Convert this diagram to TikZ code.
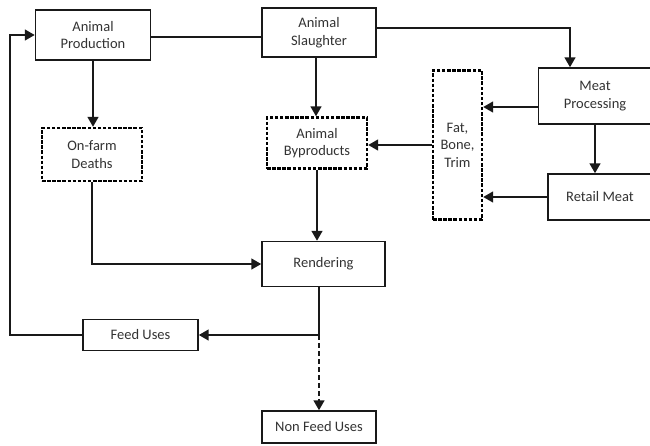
\documentclass[tikz,border=0pt]{standalone}
\usepackage{fontspec}
\setmainfont{Carlito}
\usetikzlibrary{shapes,arrows}
\usetikzlibrary{calc}

\begin{document}
\begin{tikzpicture}[x=1pt,y=-1pt]

\tikzstyle{solid-b} = [draw, line width=1.7, draw=black!90, fill=white, inner sep=0,
align=center, text=black!80, font=\fontsize{14.5}{17.5}\selectfont]
\tikzstyle{dash-b} = [draw, line width=2.6, draw=black, fill=white, inner sep=0,
dash pattern=on 3.5 off 1.6, align=center, text=black!80, font=\fontsize{14.5}{17.5}\selectfont]
\tikzstyle{flow} = [line width=1.7, draw=black!90, -triangle 60]
\tikzstyle{link} = [line width=1.7, draw=black!90]

\useasboundingbox (0,0) rectangle (650,445);

\node [solid-b, minimum width=115, minimum height=50] (ap) at (93,35) {Animal\\Production};
\node [solid-b, minimum width=114, minimum height=49] (as) at (319,32.5) {Animal\\Slaughter};
\node [solid-b, minimum width=113, minimum height=56] (mp) at (595,96) {Meat\\Processing};
\node [dash-b, minimum width=100, minimum height=53] (od) at (92,154.5) {On-farm\\Deaths};
\node [dash-b, minimum width=100, minimum height=51] (ab) at (317,143) {Animal\\Byproducts};
\node [dash-b, minimum width=49, minimum height=149] (fbt) at (457.5,145) {Fat,\\Bone,\\Trim};
\node [solid-b, minimum width=104, minimum height=46] (rm) at (600,197) {Retail Meat};
\node [solid-b, minimum width=123, minimum height=45] (rend) at (323.5,264) {Rendering};
\node [solid-b, minimum width=115, minimum height=31] (fu) at (140.5,335) {Feed Uses};
\node [solid-b, minimum width=114, minimum height=32] (nfu) at (319,427) {Non Feed Uses};

\coordinate (split) at (319,335);
\coordinate (loopx) at (10,0);

% top row
\draw[link] ([yshift=-2]ap.east) -- ([yshift=-2]ap.east -| as.west);
\draw[flow] ([yshift=4.5]as.east) -| ([xshift=-25]mp.north);
\draw[flow] ([xshift=-3]as.south) -- ([xshift=-3]as.south |- ab.north);
\draw[flow] (ap.south) -- (ap.south |- od.north);

% meat side
\draw[flow] ([yshift=-11]mp.west) -- ([yshift=-11]mp.west -| fbt.east);
\draw[flow] (mp.south) -- (mp.south |- rm.north);
\draw[flow] (rm.west) -- (rm.west -| fbt.east);
\draw[flow] (fbt.west) -- (fbt.west -| ab.east);

% rendering
\draw[flow] (ab.south) -- (ab.south |- rend.north);
\draw[flow] (od.south) |- (rend.west);
\draw[flow] (rend.south -| split) |- (fu.east);
\draw[flow, dash pattern=on 5 off 3] (split) -- (nfu.north);
\draw[flow] (fu.west) -- (fu.west -| loopx) |- (ap.west);

\end{tikzpicture}
\end{document}
